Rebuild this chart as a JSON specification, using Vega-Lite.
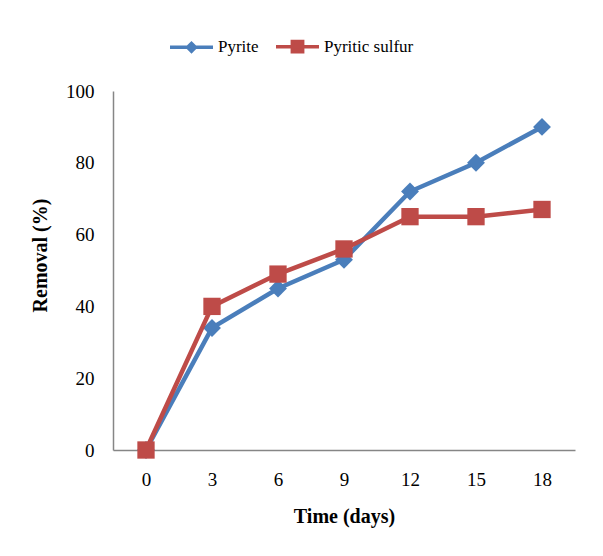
{
  "$schema": "https://vega.github.io/schema/vega-lite/v6.json",
  "width": 462,
  "height": 359,
  "autosize": {"type": "none"},
  "padding": {"left": 113, "top": 91, "right": 28, "bottom": 106},
  "background": "white",
  "config": {
    "view": {"stroke": null},
    "font": "Liberation Serif",
    "axis": {
      "labelFont": "Liberation Serif",
      "titleFont": "Liberation Serif",
      "labelColor": "black",
      "titleColor": "black",
      "grid": false,
      "ticks": false,
      "tickSize": 0,
      "domainColor": "#868686",
      "domainWidth": 1.5
    }
  },
  "data": {
    "values": [
      {"day": 0, "removal": 0, "series": "Pyrite"},
      {"day": 3, "removal": 34, "series": "Pyrite"},
      {"day": 6, "removal": 45, "series": "Pyrite"},
      {"day": 9, "removal": 53, "series": "Pyrite"},
      {"day": 12, "removal": 72, "series": "Pyrite"},
      {"day": 15, "removal": 80, "series": "Pyrite"},
      {"day": 18, "removal": 90, "series": "Pyrite"},
      {"day": 0, "removal": 0, "series": "Pyritic sulfur"},
      {"day": 3, "removal": 40, "series": "Pyritic sulfur"},
      {"day": 6, "removal": 49, "series": "Pyritic sulfur"},
      {"day": 9, "removal": 56, "series": "Pyritic sulfur"},
      {"day": 12, "removal": 65, "series": "Pyritic sulfur"},
      {"day": 15, "removal": 65, "series": "Pyritic sulfur"},
      {"day": 18, "removal": 67, "series": "Pyritic sulfur"}
    ]
  },
  "encoding": {
    "x": {
      "field": "day",
      "type": "ordinal",
      "scale": {"type": "point", "padding": 0.5},
      "axis": {
        "title": "Time (days)",
        "labelAngle": 0,
        "labelFontSize": 19,
        "labelPadding": 20,
        "titleFontSize": 20,
        "titleFontWeight": "bold",
        "titlePadding": 17
      }
    },
    "y": {
      "field": "removal",
      "type": "quantitative",
      "scale": {"domain": [0, 100], "nice": false},
      "axis": {
        "title": "Removal (%)",
        "values": [0, 20, 40, 60, 80, 100],
        "labelFontSize": 19,
        "labelPadding": 19,
        "titleFontSize": 20,
        "titleFontWeight": "bold",
        "titlePadding": 15,
        "titleY": 164
      }
    },
    "color": {
      "field": "series",
      "type": "nominal",
      "scale": {"domain": ["Pyrite", "Pyritic sulfur"], "range": ["#4A7EBB", "#BE4B48"]},
      "legend": {
        "orient": "none",
        "legendX": 55,
        "legendY": -68,
        "direction": "horizontal",
        "title": null,
        "symbolSize": 1849,
        "symbolStrokeWidth": 3.5,
        "labelFont": "Liberation Serif",
        "labelFontSize": 17,
        "labelColor": "black",
        "labelOffset": 3,
        "columnPadding": 10,
        "encode": {
          "symbols": {
            "update": {
              "shape": {"signal": "datum.value === 'Pyrite' ? 'M-1,0H1M0,-0.18L0.18,0L0,0.18L-0.18,0Z' : 'M-1,0H1M-0.24,-0.24H0.24V0.24H-0.24Z'"},
              "fill": {"signal": "scale('color', datum.value)"},
              "stroke": {"signal": "scale('color', datum.value)"},
              "strokeWidth": {"value": 3.5},
              "opacity": {"value": 1}
            }
          }
        }
      }
    }
  },
  "layer": [
    {
      "transform": [{"filter": "datum.series === 'Pyrite'"}],
      "mark": {"type": "line", "strokeWidth": 4.5}
    },
    {
      "transform": [{"filter": "datum.series === 'Pyrite'"}],
      "mark": {"type": "point", "shape": "diamond", "filled": true, "opacity": 1, "size": 320}
    },
    {
      "transform": [{"filter": "datum.series === 'Pyritic sulfur'"}],
      "mark": {"type": "line", "strokeWidth": 4.5}
    },
    {
      "transform": [{"filter": "datum.series === 'Pyritic sulfur'"}],
      "mark": {"type": "point", "shape": "square", "filled": true, "opacity": 1, "size": 300}
    }
  ]
}
